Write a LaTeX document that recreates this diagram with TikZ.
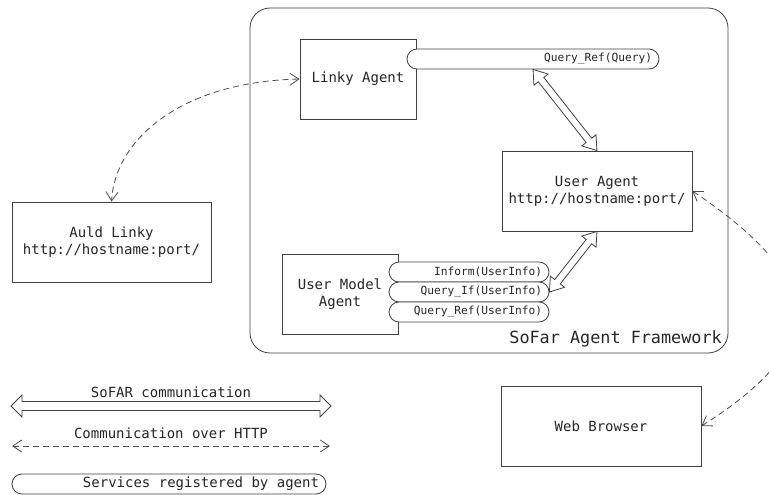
\documentclass[tikz,border=0pt]{standalone}
\usepackage{fontspec}
\setmainfont{DejaVu Sans Mono}[WordSpace={1,0,0}]
\usetikzlibrary{calc,arrows.meta}

% hollow double-headed arrow between two points
% #1 start, #2 end, #3 half shaft width, #4 half head width, #5 head length
\newcommand\hollowarrow[5]{%
  \path (#1); \pgfgetlastxy{\hax}{\hay}%
  \path (#2); \pgfgetlastxy{\hbx}{\hby}%
  \pgfmathsetmacro\harlen{veclen(\hbx-\hax,\hby-\hay)}%
  \pgfmathsetmacro\harang{atan2(\hby-\hay,\hbx-\hax)}%
  \begin{scope}[shift={(#1)}, rotate=\harang]
    \draw[ink, fill=white, line join=miter]
      (0,0) -- (#5,#4) -- (#5,#3) -- ({\harlen-#5},#3) -- ({\harlen-#5},#4)
      -- (\harlen,0) -- ({\harlen-#5},-#4) -- ({\harlen-#5},-#3)
      -- (#5,-#3) -- (#5,-#4) -- cycle;
  \end{scope}}

\begin{document}
\begin{tikzpicture}[x=1pt,y=-1pt,
  ink/.style={draw=black!75, line width=0.8pt},
  agent/.style={ink, fill=white, inner sep=0pt, align=center,
    font=\fontsize{14}{17}\selectfont, text=black!85},
  pill/.style={ink, fill=white, rounded corners=10pt, minimum height=20pt,
    inner xsep=7pt, inner ysep=0pt, align=flush right,
    font=\fontsize{11.2}{13}\selectfont, text=black!85},
  http/.style={draw=black!70, line width=0.8pt, dash pattern=on 6pt off 4pt,
    {Straight Barb[length=9pt,width=12pt]}-{Straight Barb[length=9pt,width=12pt]}},
  lbl/.style={font=\fontsize{14}{17}\selectfont, text=black!85, inner sep=0pt},
]
\useasboundingbox (0,0) rectangle (769,495);
\clip (0,0) rectangle (769,495);
\fill[white] (0,0) rectangle (769,495);

% framework frame
\node[ink, rounded corners=20pt, minimum width=478pt, minimum height=345pt,
  inner sep=0pt] (fw) at (489,180.5) {};
\node[lbl, font=\fontsize{16.8}{19}\selectfont, anchor=base east]
  (fwlabel) at (722,343) {SoFar Agent Framework};

% agents
\node[agent, minimum width=116pt, minimum height=80pt] (linky) at (358,79) {Linky Agent};
\node[agent, minimum width=190pt, minimum height=80pt] (ua) at (597,191)
  {User Agent\\http://hostname:port/};
\node[agent, minimum width=116pt, minimum height=80pt] (uma) at (340,294)
  {User Model\\Agent};
\node[agent, minimum width=199pt, minimum height=80pt] (al) at (111.5,242)
  {Auld Linky\\http://hostname:port/};
\node[agent, minimum width=200pt, minimum height=80pt] (wb) at (601,426) {Web Browser};

% registered services
\node[pill, text width=238pt] (qref) at (533,59) {Query\_Ref(Query)};
\node[pill, text width=146pt] (inf) at (469,272) {Inform(UserInfo)};
\node[pill, text width=146pt] (qif) at (469,292) {Query\_If(UserInfo)};
\node[pill, text width=146pt] (qru) at (469,312) {Query\_Ref(UserInfo)};

% SoFAR communication
\hollowarrow{qref.south}{ua.north}{3.5}{9}{13}
\hollowarrow{ua.south}{qif.east}{3.5}{9}{13}

% HTTP communication
\draw[http] (linky.west) .. controls (180,82) and (115,140) .. (al.north);
\draw[http] (ua.east) .. controls (825,280) and (830,345) .. (wb.east);

% legend
\coordinate (la) at (11,406);
\coordinate (lb) at (331,406);
\hollowarrow{la}{lb}{4.5}{11}{11}
\node[lbl, anchor=base] (lsofar) at (171,397) {SoFAR communication};
\coordinate (lc) at (12,446);
\coordinate (ld) at (330,446);
\draw[http] (lc) -- (ld);
\node[lbl, anchor=base] (lhttp) at (171,438) {Communication over HTTP};
\node[pill, text width=300pt, font=\fontsize{14}{17}\selectfont] (lpill) at (169,484)
  {Services registered by agent};
\end{tikzpicture}
\end{document}
